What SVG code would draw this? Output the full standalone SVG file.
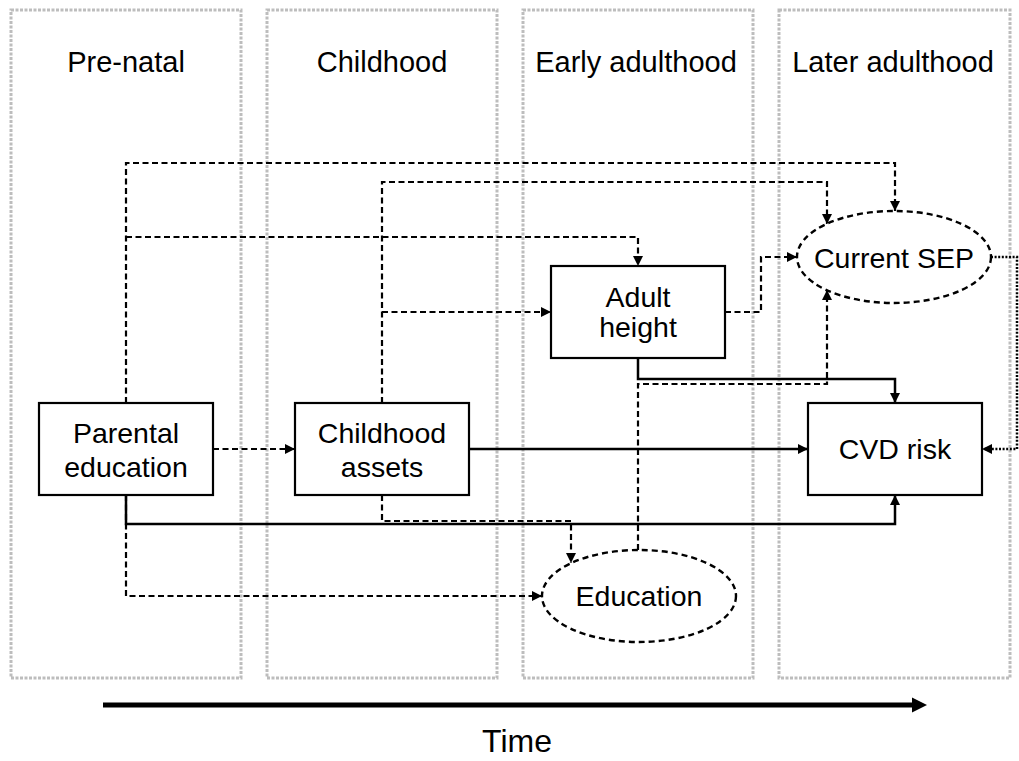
<svg xmlns="http://www.w3.org/2000/svg" width="1019" height="761" viewBox="0 0 1019 761">
<style>
.panel{fill:none;stroke:#bdbdbd;stroke-width:3;stroke-dasharray:3,1.5}
.lbl{font-family:"Liberation Sans",Arial,sans-serif;font-size:29px;fill:#000;text-anchor:middle}
.txt{font-family:"Liberation Sans",Arial,sans-serif;font-size:28.5px;fill:#000;text-anchor:middle}
.box{fill:#fff;stroke:#000;stroke-width:2.2}
.oval{fill:#fff;stroke:#000;stroke-width:2.4;stroke-dasharray:6,4}
.solid{fill:none;stroke:#000;stroke-width:2.5;marker-end:url(#ah)}
.dash{fill:none;stroke:#000;stroke-width:2.2;stroke-dasharray:6,3.5;marker-end:url(#ah)}
.dot{fill:none;stroke:#000;stroke-width:2.5;stroke-dasharray:2,1.6;marker-end:url(#ah)}
</style>
<defs>
<marker id="ah" markerUnits="userSpaceOnUse" markerWidth="10" markerHeight="10" refX="10" refY="5" orient="auto" viewBox="0 0 10 10">
<path d="M0,0 L10,5 L0,10 z" fill="#000"/>
</marker>
</defs>
<rect width="1019" height="761" fill="#fff"/>
<g id="panels">
<rect class="panel" x="11" y="10" width="230" height="668"/>
<rect class="panel" x="267" y="10" width="230" height="668"/>
<rect class="panel" x="523" y="10" width="230" height="668"/>
<rect class="panel" x="779" y="10" width="231" height="668"/>
<text class="lbl" x="126" y="72">Pre-natal</text>
<text class="lbl" x="382" y="72">Childhood</text>
<text class="lbl" x="636" y="72">Early adulthood</text>
<text class="lbl" x="893" y="72">Later adulthood</text>
</g>
<g id="connectors">
<path class="dash" d="M126,403 V163 H895 V211"/>
<path class="dash" d="M126,237 H638 V266"/>
<path class="dash" d="M382,403 V182 H827 V224"/>
<path class="dash" d="M382,312 H551"/>
<path class="dash" d="M213,449 H295"/>
<path class="solid" d="M469,449 H808"/>
<path class="dash" d="M126,495 V596 H542"/>
<path class="dash" d="M382,495 V521 H571 V563"/>
<path class="solid" d="M126,495 V524 H895 V495"/>
<path class="solid" d="M638,358 V379 H895 V403"/>
<path class="dash" d="M725,312 H761 V257 H797"/>
<path class="dash" d="M638,550 V384 H827 V290"/>
<path class="dot" d="M991,257 H1017 V449 H982"/>
</g>
<g id="parental-education">
<rect class="box" x="39" y="403" width="174" height="92"/>
<text class="txt" x="126" y="443">Parental</text>
<text class="txt" x="126" y="477">education</text>
</g>
<g id="childhood-assets">
<rect class="box" x="295" y="403" width="174" height="92"/>
<text class="txt" x="382" y="443">Childhood</text>
<text class="txt" x="382" y="477">assets</text>
</g>
<g id="adult-height">
<rect class="box" x="551" y="266" width="174" height="92"/>
<text class="txt" x="638" y="307">Adult</text>
<text class="txt" x="638" y="337">height</text>
</g>
<g id="current-sep">
<ellipse class="oval" cx="894" cy="257" rx="97" ry="46"/>
<text class="txt" x="894" y="268">Current SEP</text>
</g>
<g id="cvd-risk">
<rect class="box" x="808" y="403" width="174" height="92"/>
<text class="txt" x="895" y="459">CVD risk</text>
</g>
<g id="education">
<ellipse class="oval" cx="639" cy="596" rx="97" ry="46"/>
<text class="txt" x="639" y="606">Education</text>
</g>
<g id="time">
<line x1="103" y1="705" x2="913" y2="705" stroke="#000" stroke-width="5"/>
<polygon points="912,697.5 927,705 912,712.5" fill="#000"/>
<text class="lbl" x="517" y="752" style="font-size:32px">Time</text>
</g>
</svg>
